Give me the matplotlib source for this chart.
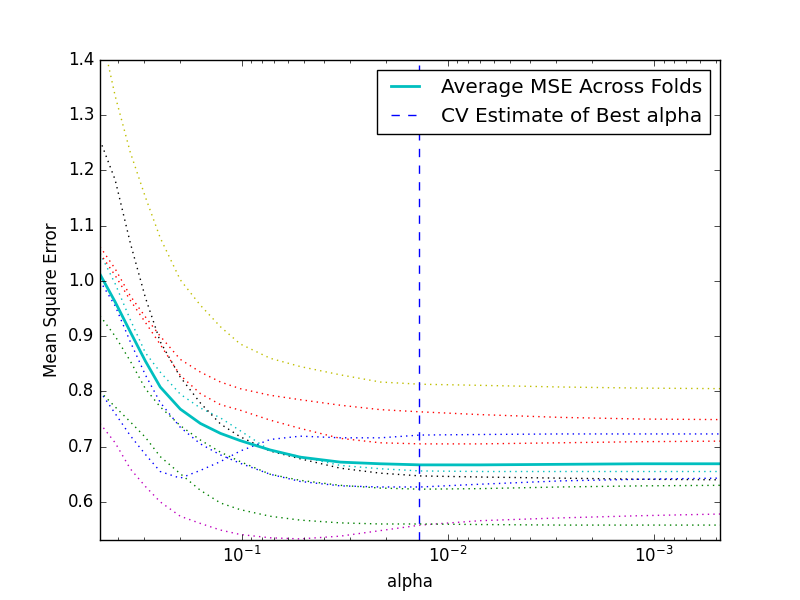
import matplotlib

matplotlib.use("Agg")
import matplotlib.pyplot as plt
import numpy as np

alphas = [0.488, 0.412, 0.348, 0.294, 0.249, 0.199, 0.159, 0.127, 0.102,
          0.0729, 0.0521, 0.0333, 0.0213, 0.0136, 0.00697, 0.00285, 0.00116, 0.000479]

# per-fold MSE paths (colour order follows the classic b g r c m y k cycle)
fold_blue_low = [0.800, 0.760, 0.720, 0.686, 0.655, 0.643, 0.657, 0.673, 0.692,
                 0.713, 0.719, 0.716, 0.716, 0.721, 0.722, 0.723, 0.723, 0.723]
fold_green_up = [0.937, 0.900, 0.855, 0.805, 0.772, 0.738, 0.712, 0.690, 0.673,
                 0.650, 0.639, 0.630, 0.625, 0.623, 0.624, 0.627, 0.629, 0.630]
fold_red_up = [1.062, 1.022, 0.973, 0.935, 0.900, 0.858, 0.835, 0.817, 0.805,
               0.793, 0.785, 0.775, 0.767, 0.763, 0.758, 0.753, 0.750, 0.749]
fold_cyan = [1.050, 0.995, 0.930, 0.870, 0.835, 0.795, 0.770, 0.752, 0.729,
             0.693, 0.682, 0.666, 0.660, 0.656, 0.655, 0.655, 0.655, 0.655]
fold_magenta = [0.742, 0.707, 0.660, 0.628, 0.600, 0.574, 0.561, 0.549, 0.541,
                0.535, 0.533, 0.538, 0.548, 0.558, 0.566, 0.571, 0.575, 0.578]
fold_yellow = [1.460, 1.335, 1.233, 1.152, 1.078, 1.002, 0.956, 0.917, 0.886,
               0.860, 0.845, 0.830, 0.817, 0.813, 0.811, 0.808, 0.806, 0.805]
fold_black = [1.255, 1.183, 1.069, 0.970, 0.890, 0.826, 0.779, 0.741, 0.718,
              0.692, 0.678, 0.661, 0.652, 0.647, 0.645, 0.643, 0.641, 0.640]
fold_blue_up = [1.000, 0.955, 0.890, 0.830, 0.780, 0.735, 0.705, 0.685, 0.670,
                0.650, 0.637, 0.629, 0.627, 0.627, 0.632, 0.638, 0.641, 0.643]
fold_green_low = [0.800, 0.772, 0.745, 0.717, 0.682, 0.651, 0.621, 0.598, 0.586,
                  0.574, 0.567, 0.562, 0.560, 0.560, 0.559, 0.558, 0.558, 0.558]
fold_red_low = [1.050, 1.010, 0.965, 0.925, 0.885, 0.829, 0.796, 0.776, 0.766,
                0.748, 0.733, 0.715, 0.707, 0.705, 0.705, 0.707, 0.709, 0.710]

mse_mean = [1.012, 0.962, 0.908, 0.855, 0.808, 0.768, 0.742, 0.724, 0.711,
            0.694, 0.681, 0.672, 0.669, 0.667, 0.667, 0.668, 0.669, 0.669]

best_alpha = 0.0138

folds = [fold_blue_low, fold_green_up, fold_red_up, fold_cyan, fold_magenta,
         fold_yellow, fold_black, fold_blue_up, fold_green_low, fold_red_low]

plt.style.use("classic")
fig = plt.figure(figsize=(8, 6), dpi=100)
ax = fig.add_subplot(111)

for path in folds:
    ax.semilogx(alphas, path, ":")
ax.plot(alphas, mse_mean, color="c", linewidth=2, label="Average MSE Across Folds")
ax.axvline(best_alpha, color="b", linestyle="--", label="CV Estimate of Best alpha")

ax.set_xlim(alphas[0], alphas[-1])
ax.set_ylim(0.531, 1.4)
ax.set_yticks(np.arange(0.6, 1.41, 0.1))
ax.set_xlabel("alpha")
ax.set_ylabel("Mean Square Error")
ax.legend(loc="upper right")

fig.savefig("out.png", dpi=100, facecolor="white")
